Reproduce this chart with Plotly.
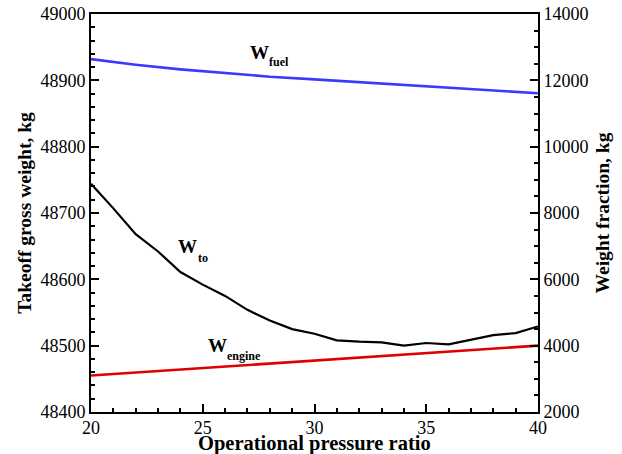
import plotly.graph_objects as go

# Operational pressure ratio sweep
opr = [20, 21, 22, 23, 24, 25, 26, 27, 28, 29, 30, 31, 32, 33, 34, 35, 36, 37, 38, 39, 40]

# Takeoff gross weight, kg (left axis)
w_to = [48744, 48707, 48668, 48642, 48611, 48592, 48575, 48554, 48538, 48525, 48518,
        48508, 48506, 48505, 48500, 48504, 48502, 48509, 48516, 48519, 48529]

# Component weights, kg (right axis)
opr_frac = [20, 22, 24, 26, 28, 30, 32, 34, 36, 38, 40]
w_fuel = [12640, 12470, 12330, 12210, 12110, 12030, 11950, 11870, 11780, 11700, 11610]
w_engine = [3100, 3190, 3280, 3370, 3460, 3550, 3640, 3730, 3820, 3910, 4000]

SERIF = "Liberation Serif"

fig = go.Figure()
fig.add_trace(go.Scatter(x=opr, y=w_to, mode="lines", line=dict(color="black", width=2.2),
                         yaxis="y", showlegend=False))
fig.add_trace(go.Scatter(x=opr_frac, y=w_fuel, mode="lines", line=dict(color="#3a3aff", width=2.6),
                         yaxis="y2", showlegend=False))
fig.add_trace(go.Scatter(x=opr_frac, y=w_engine, mode="lines", line=dict(color="#e00000", width=2.6),
                         yaxis="y2", showlegend=False))

# Curve labels: large bold "W" with a small, lowered subscript
big = dict(family=SERIF, size=19, color="black")
small = dict(family=SERIF, size=12, color="black")
labels = [
    # (x, y, yref, text, font)
    (27.07, 12833, "y2", "<b>W</b>", big),
    (27.92, 12553, "y2", "<b>fuel</b>", small),
    (23.83, 48649, "y", "<b>W</b>", big),
    (24.73, 48632, "y", "<b>to</b>", small),
    (25.18, 4020, "y2", "<b>W</b>", big),
    (26.04, 3688, "y2", "<b>engine</b>", small),
]
for lx, ly, yr, txt, fnt in labels:
    fig.add_annotation(x=lx, y=ly, yref=yr, text=txt, showarrow=False,
                       xanchor="left", yanchor="middle", font=fnt, borderpad=0)

# X-axis title placed just under the tick labels
fig.add_annotation(x=0.5, y=-0.0779, xref="paper", yref="paper",
                   text="<b>Operational pressure ratio</b>", showarrow=False,
                   xanchor="center", yanchor="middle",
                   font=dict(family=SERIF, size=20.5, color="black"))

tick_font = dict(family=SERIF, size=18, color="black")
title_font = dict(family=SERIF, size=19.5, color="black")

fig.update_layout(
    width=622, height=454,
    margin=dict(l=91, r=84, t=14, b=42),
    paper_bgcolor="white", plot_bgcolor="white",
    xaxis=dict(range=[20, 40], dtick=5, tick0=20, ticks="inside", ticklen=8, tickwidth=1.5,
               tickcolor="black", showline=True, linecolor="black", linewidth=2, mirror=True,
               showgrid=False, zeroline=False, tickfont=tick_font, ticklabelstandoff=-2,
               minor=dict(dtick=1, ticks="inside", ticklen=4, tickcolor="black", showgrid=False),
               automargin=False),
    yaxis=dict(range=[48400, 49000], dtick=100, ticks="inside", ticklen=8, tickwidth=1.5,
               tickcolor="black", showline=True, linecolor="black", linewidth=2,
               showgrid=False, zeroline=False, tickfont=tick_font, tickformat="d",
               minor=dict(dtick=20, ticks="inside", ticklen=4, tickcolor="black", showgrid=False),
               title=dict(text="<b>Takeoff gross weight, kg</b>", font=title_font, standoff=4),
               automargin=False),
    yaxis2=dict(range=[2000, 14000], dtick=2000, overlaying="y", side="right", ticks="inside",
                ticklen=8, tickwidth=1.5, tickcolor="black", showline=True, linecolor="black",
                linewidth=2, showgrid=False, zeroline=False, tickfont=tick_font, tickformat="d",
                minor=dict(dtick=500, ticks="inside", ticklen=4, tickcolor="black", showgrid=False),
                title=dict(text="<b>Weight fraction, kg</b>", font=title_font, standoff=8),
                automargin=False),
)

fig.write_html("out.html")
